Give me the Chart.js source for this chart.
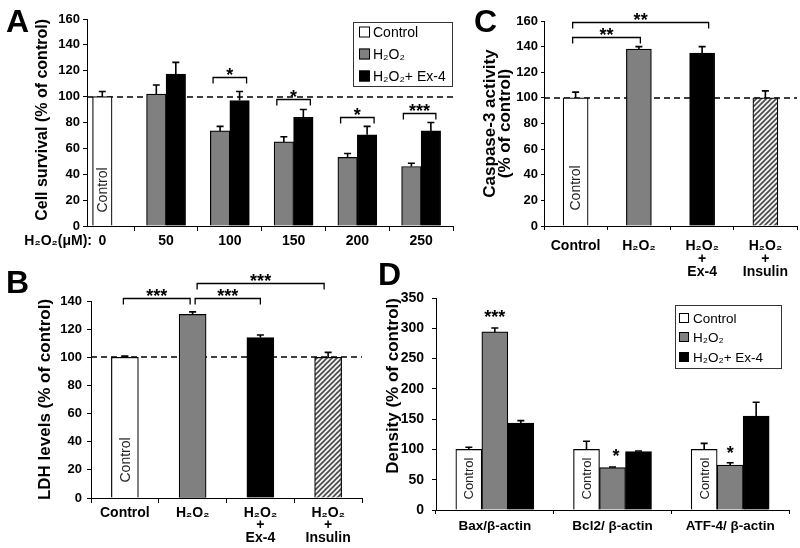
<!DOCTYPE html>
<html>
<head>
<meta charset="utf-8">
<script src="https://cdn.jsdelivr.net/npm/chart.js@4.4.1/dist/chart.umd.min.js"></script>
<style>
  html, body { margin: 0; padding: 0; background: #fff; }
  #fig { position: relative; width: 800px; height: 548px; overflow: hidden; }
  #fig canvas { position: absolute; }
</style>
</head>
<body>
<div id="fig">
  <canvas id="chartA" width="470" height="255" style="left:0;top:0"></canvas>
  <canvas id="chartC" width="330" height="285" style="left:470px;top:0"></canvas>
  <canvas id="chartB" width="375" height="293" style="left:0;top:255px"></canvas>
  <canvas id="chartD" width="425" height="293" style="left:375px;top:255px"></canvas>
</div>
<script>
// A - cell survival vs H2O2 dose
const doseLabels = ['0', '50', '100', '150', '200', '250'];
const survControl = [100, null, null, null, null, null];
const survControlErr = [4, null, null, null, null, null];
const survH2O2 = [null, 102, 73.5, 65, 53, 46];
const survH2O2Err = [null, 7, 3.5, 4, 3, 2.5];
const survEx4 = [null, 117.5, 97, 84, 70.5, 73.5];
const survEx4Err = [null, 9, 7, 6, 6.5, 6.5];

// B / C - four treatment groups
const groupLabels = [['Control'], ['H₂O₂'], ['H₂O₂', '+', 'Ex-4'], ['H₂O₂', '+', 'Insulin']];
const ldhValues = [100, 130.5, 114, 100];
const ldhErr = [0.8, 1.8, 1.8, 3.5];
const caspValues = [100, 138, 135, 100];
const caspErr = [4.5, 2, 5, 5.5];

// D - western blot densities
const proteinLabels = ['Bax/β-actin', 'Bcl2/ β-actin', 'ATF-4/ β-actin'];
const denControl = [100, 100, 100];
const denControlErr = [3.5, 13.5, 10];
const denH2O2 = [294, 70, 74];
const denH2O2Err = [6.5, 1, 4];
const denEx4 = [143.5, 96.5, 155];
const denEx4Err = [4, 1, 23];

const FONT = "'Liberation Sans', Arial, Helvetica, sans-serif";
const WHITE = '#ffffff', GRAY = '#808080', BLACK = '#000000';

Chart.defaults.font.family = FONT;
Chart.defaults.color = '#000';

function bold(size, lineHeight) {
    return { family: FONT, size, weight: 'bold', lineHeight: lineHeight || 1.2 };
}

function hatch() {
    const c = document.createElement('canvas');
    c.width = 5; c.height = 5;
    const g = c.getContext('2d');
    g.fillStyle = '#f2f2f2';
    g.fillRect(0, 0, 5, 5);
    g.strokeStyle = '#4a4a4a';
    g.lineWidth = 1.6;
    g.beginPath();
    g.moveTo(-1, 6); g.lineTo(6, -1);
    g.moveTo(-1, 1); g.lineTo(1, -1);
    g.moveTo(4, 6); g.lineTo(6, 4);
    g.stroke();
    return g.createPattern(c, 'repeat');
}

function valueAxis(max, step, width, title, o) {
    return {
        min: 0, max,
        ticks: { stepSize: step, padding: o.pad, color: '#000', font: bold(o.tickSize) },
        grid: { drawOnChartArea: false, color: '#000', tickLength: o.tick },
        border: { color: '#000', width: 1 },
        title: {
            display: true, text: title, color: '#000', align: o.align || 'center',
            font: bold(o.titleSize, o.titleLH), padding: { top: o.titleAt, bottom: 0 }
        },
        afterFit: s => { s.width = width; }
    };
}

function groupAxis(height, o) {
    return {
        ticks: { color: '#000', padding: o.pad, autoSkip: false, maxRotation: 0, font: bold(o.size || 14, o.lh) },
        grid: { drawOnChartArea: false, color: '#000', tickLength: o.tick, offset: true },
        border: { color: '#000', width: 1 },
        afterFit: s => { s.height = height; }
    };
}

// error bars, dashed 100% line, brackets, legend box, panel letters
const extras = {
    id: 'extras',
    beforeDatasetsDraw(chart, args, o) {
        if (o.refLine === undefined) return;
        const { ctx, chartArea } = chart;
        const py = Math.round(chart.scales.y.getPixelForValue(o.refLine));
        ctx.save();
        ctx.strokeStyle = '#000';
        ctx.lineWidth = 1.6;
        ctx.setLineDash([6, 4]);
        ctx.beginPath();
        ctx.moveTo(chartArea.left, py);
        ctx.lineTo(chartArea.right, py);
        ctx.stroke();
        ctx.restore();
    },
    afterDraw(chart, args, o) {
        const { ctx } = chart;
        const y = chart.scales.y;
        const barAt = (p) => chart.getDatasetMeta(p[0]).data[p[1]];
        ctx.save();

        // error bars
        ctx.strokeStyle = '#000';
        ctx.lineWidth = 1.6;
        chart.data.datasets.forEach((ds, di) => {
            chart.getDatasetMeta(di).data.forEach((bar, i) => {
                const v = ds.data[i];
                const e = ds.errors ? ds.errors[i] : null;
                if (v == null || !e) return;
                const top = y.getPixelForValue(v + e);
                ctx.beginPath();
                ctx.moveTo(bar.x, bar.y);
                ctx.lineTo(bar.x, top);
                ctx.moveTo(bar.x - 3.5, top);
                ctx.lineTo(bar.x + 3.5, top);
                ctx.stroke();
            });
        });

        // vertical text inside the control bars
        (o.barText || []).forEach(p => {
            const bar = barAt(p);
            ctx.save();
            ctx.translate(bar.x, bar.base - o.barTextGap);
            ctx.rotate(-Math.PI / 2);
            ctx.font = o.barTextSize + 'px ' + FONT;
            ctx.fillStyle = '#222';
            ctx.textAlign = 'left';
            ctx.textBaseline = 'middle';
            ctx.fillText('Control', 0, 1);
            ctx.restore();
        });

        // significance brackets
        ctx.font = 'bold 18px ' + FONT;
        ctx.textAlign = 'center';
        ctx.textBaseline = 'alphabetic';
        ctx.fillStyle = '#000';
        (o.brackets || []).forEach(b => {
            const x1 = barAt(b.from).x + (b.dx1 || 0);
            const x2 = barAt(b.to).x + (b.dx2 || 0);
            const py = Math.round(y.getPixelForValue(b.level)) + 0.5;
            ctx.lineWidth = 1.3;
            ctx.beginPath();
            ctx.moveTo(x1, py + 6);
            ctx.lineTo(x1, py);
            ctx.lineTo(x2, py);
            ctx.lineTo(x2, py + 6);
            ctx.stroke();
            ctx.fillText(b.text, (x1 + x2) / 2, py + 3);
        });
        (o.stars || []).forEach(s => {
            const bar = barAt(s.at);
            ctx.fillText(s.text, bar.x + (s.dx || 0), y.getPixelForValue(s.level) + 10);
        });

        // legend box
        if (o.legend) {
            const L = o.legend;
            ctx.lineWidth = 1;
            ctx.strokeStyle = '#333';
            ctx.strokeRect(L.x + 0.5, L.y + 0.5, L.w, L.h);
            ctx.font = L.size + 'px ' + FONT;
            ctx.textAlign = 'left';
            ctx.textBaseline = 'middle';
            chart.data.datasets.forEach((ds, di) => {
                const cy = Math.round(L.y + L.first + di * L.step);
                const bx = L.x + L.pad;
                ctx.fillStyle = ds.backgroundColor;
                ctx.fillRect(bx, cy - L.box / 2, L.box, L.box);
                ctx.strokeStyle = '#000';
                ctx.strokeRect(bx + 0.5, cy - L.box / 2 + 0.5, L.box - 1, L.box - 1);
                ctx.fillStyle = '#000';
                ctx.fillText(ds.label, bx + L.box + L.gap, cy + 1);
            });
        }

        // axis caption to the left of the first tick label
        if (o.caption) {
            ctx.font = 'bold 14px ' + FONT;
            ctx.fillStyle = '#000';
            ctx.textAlign = 'right';
            ctx.textBaseline = 'middle';
            ctx.fillText(o.caption, chart.chartArea.left + 5, chart.chartArea.bottom + 15);
        }

        // panel letter
        if (o.letter) {
            ctx.font = 'bold 32px ' + FONT;
            ctx.fillStyle = '#000';
            ctx.textAlign = 'left';
            ctx.textBaseline = 'alphabetic';
            ctx.fillText(o.letter.text, o.letter.x, o.letter.y);
        }
        ctx.restore();
    }
};

const base = {
    responsive: false,
    animation: false,
    events: [],
    plugins: { legend: { display: false }, tooltip: { enabled: false } }
};

// A
new Chart(document.getElementById('chartA'), {
    type: 'bar',
    data: {
        labels: doseLabels,
        datasets: [
            { label: 'Control', data: survControl, errors: survControlErr, backgroundColor: WHITE },
            { label: 'H₂O₂', data: survH2O2, errors: survH2O2Err, backgroundColor: GRAY },
            { label: 'H₂O₂+ Ex-4', data: survEx4, errors: survEx4Err, backgroundColor: BLACK }
        ]
    },
    options: {
        ...base,
        datasets: { bar: { barThickness: 19.5, skipNull: true, borderColor: '#000', borderWidth: 1.2 } },
        layout: { padding: { top: 19, right: 17, left: 0, bottom: 0 } },
        scales: {
            x: {
                type: 'linear', min: -12, max: 275, offset: false,
                afterBuildTicks: s => { s.ticks = doseLabels.map(v => ({ value: +v })); },
                ...groupAxis(29, { pad: 2, tick: 5 })
            },
            y: valueAxis(160, 20, 87, 'Cell survival (% of control)',
                { pad: 3, tick: 4, tickSize: 13, titleSize: 16, titleAt: 33.4, align: 'end' })
        },
        plugins: {
            ...base.plugins,
            extras: {
                refLine: 100,
                barText: [[0, 0]], barTextGap: 13, barTextSize: 14,
                brackets: [
                    { from: [1, 2], to: [2, 2], level: 115, text: '*', dx1: -7, dx2: 7 },
                    { from: [1, 3], to: [2, 3], level: 98, text: '*', dx1: -7, dx2: 7 },
                    { from: [1, 4], to: [2, 4], level: 84, text: '*', dx1: -7, dx2: 7 },
                    { from: [1, 5], to: [2, 5], level: 87, text: '***', dx1: -8, dx2: 5 }
                ],
                legend: { x: 353, y: 22, w: 99, h: 64, first: 10, step: 22, box: 11, pad: 6, gap: 3, size: 14 },
                caption: 'H₂O₂(μM):',
                letter: { text: 'A', x: 6, y: 32 }
            }
        }
    },
    plugins: [extras]
});

// B
new Chart(document.getElementById('chartB'), {
    type: 'bar',
    data: {
        labels: groupLabels,
        datasets: [{ label: 'LDH', data: ldhValues, errors: ldhErr, backgroundColor: [WHITE, GRAY, BLACK, hatch()] }]
    },
    options: {
        ...base,
        datasets: { bar: { barThickness: 27, borderColor: '#000', borderWidth: 1.2 } },
        layout: { padding: { top: 46, right: 13, left: 0, bottom: 0 } },
        scales: {
            x: groupAxis(50, { pad: 3.4, tick: 5, lh: 0.9 }),
            y: valueAxis(140, 20, 91, 'LDH levels (% of control)',
                { pad: 5, tick: 4, tickSize: 13, titleSize: 17, titleAt: 34.8 })
        },
        plugins: {
            ...base.plugins,
            extras: {
                refLine: 100,
                barText: [[0, 0]], barTextGap: 15, barTextSize: 14,
                brackets: [
                    { from: [0, 0], to: [0, 1], level: 142.4, text: '***', dx1: -1.5, dx2: -2.5 },
                    { from: [0, 1], to: [0, 2], level: 142.4, text: '***', dx1: 2.5, dx2: 0 },
                    { from: [0, 1], to: [0, 3], level: 152.8, text: '***', dx1: 4.5, dx2: -4 }
                ],
                letter: { text: 'B', x: 6, y: 38 }
            }
        }
    },
    plugins: [extras]
});

// C
new Chart(document.getElementById('chartC'), {
    type: 'bar',
    data: {
        labels: groupLabels,
        datasets: [{ label: 'Caspase-3', data: caspValues, errors: caspErr, backgroundColor: [WHITE, GRAY, BLACK, hatch()] }]
    },
    options: {
        ...base,
        datasets: { bar: { barThickness: 25, borderColor: '#000', borderWidth: 1.2 } },
        layout: { padding: { top: 21, right: 3, left: 0, bottom: 0 } },
        scales: {
            x: groupAxis(59, { pad: 10.2, tick: 4, lh: 0.9 }),
            y: valueAxis(160, 20, 74, ['Caspase-3 activity', '(% of control)'],
                { pad: 3, tick: 3, tickSize: 13, titleSize: 17, titleLH: 0.9, titleAt: 12.4 })
        },
        plugins: {
            ...base.plugins,
            extras: {
                refLine: 100,
                barText: [[0, 0]], barTextGap: 15, barTextSize: 14,
                brackets: [
                    { from: [0, 0], to: [0, 1], level: 147.4, text: '**', dx1: -3, dx2: 1.5 },
                    { from: [0, 0], to: [0, 2], level: 159.6, text: '**', dx1: -3, dx2: 6.5 }
                ],
                letter: { text: 'C', x: 4, y: 32 }
            }
        }
    },
    plugins: [extras]
});

// D
new Chart(document.getElementById('chartD'), {
    type: 'bar',
    data: {
        labels: proteinLabels,
        datasets: [
            { label: 'Control', data: denControl, errors: denControlErr, backgroundColor: WHITE },
            { label: 'H₂O₂', data: denH2O2, errors: denH2O2Err, backgroundColor: GRAY },
            { label: 'H₂O₂+ Ex-4', data: denEx4, errors: denEx4Err, backgroundColor: BLACK }
        ]
    },
    options: {
        ...base,
        datasets: { bar: { barThickness: 26, borderColor: '#000', borderWidth: 1.2 } },
        layout: { padding: { top: 43, right: 11, left: 0, bottom: 0 } },
        scales: {
            x: groupAxis(38, { pad: 4, tick: 4, size: 13.5 }),
            y: valueAxis(350, 50, 61, 'Density (% of control)',
                { pad: 8, tick: 4, tickSize: 14, titleSize: 17, titleAt: 8.1, align: 'end' })
        },
        plugins: {
            ...base.plugins,
            extras: {
                barText: [[0, 0], [0, 1], [0, 2]], barTextGap: 10, barTextSize: 13,
                stars: [
                    { at: [1, 0], level: 326, text: '***' },
                    { at: [1, 1], level: 96, text: '*', dx: 3.5 },
                    { at: [1, 2], level: 100, text: '*' }
                ],
                legend: { x: 300, y: 50, w: 106, h: 63, first: 12.7, step: 19.5, box: 10, pad: 4, gap: 4, size: 13.5 },
                letter: { text: 'D', x: 3, y: 30 }
            }
        }
    },
    plugins: [extras]
});
</script>
</body>
</html>
